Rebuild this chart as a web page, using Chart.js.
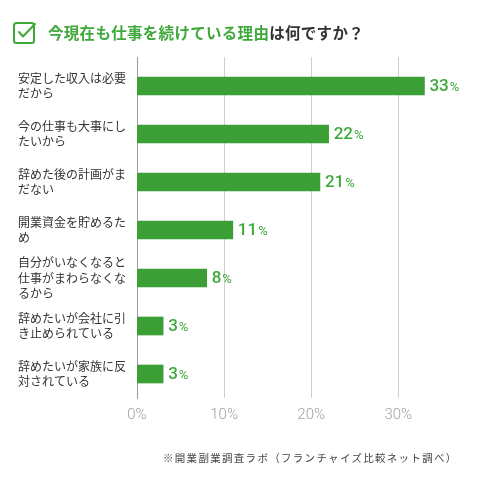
<!DOCTYPE html>
<html>
<head>
<meta charset="utf-8">
<script src="https://cdn.jsdelivr.net/npm/chart.js@4"></script>
<style>
  body { margin: 0; background: #fff; }
  #wrap { position: relative; width: 479px; height: 490px; }
  #grafico { position: absolute; left: 0; top: 0; }
  #titulo {
    position: absolute; left: 13px; top: 20px; height: 24px;
    display: flex; align-items: center;
    font-family: "Noto Sans CJK JP", sans-serif; font-weight: bold; font-size: 15.5px;
    color: #333; letter-spacing: 0.3px;
  }
  #titulo svg { margin-right: 11px; }
  #titulo .verde { color: #3ea83a; }
  #fonte {
    position: absolute; left: 163px; top: 450px;
    font-family: "Noto Sans CJK JP", sans-serif; font-size: 10.5px; color: #444;
    letter-spacing: 1.3px;
  }
</style>
</head>
<body>
<div id="wrap">
  <canvas id="grafico" width="479" height="490"></canvas>
  <div id="titulo">
    <svg width="24" height="24" viewBox="0 0 24 24">
      <rect x="1" y="3" width="20" height="20" rx="2.5" fill="none" stroke="#3ea83a" stroke-width="2"/>
      <polyline points="6,12 10,16.5 22,4" fill="none" stroke="#3ea83a" stroke-width="2" stroke-linecap="round" stroke-linejoin="round"/>
    </svg>
    <span><span class="verde">今現在も仕事を続けている理由</span>は何ですか？</span>
  </div>
  <div id="fonte">※開業副業調査ラボ（フランチャイズ比較ネット調べ）</div>
</div>
<script>
const categorias = [
  ["安定した収入は必要", "だから"],
  ["今の仕事も大事にし", "たいから"],
  ["辞めた後の計画がま", "だない"],
  ["開業資金を貯めるた", "め"],
  ["自分がいなくなると", "仕事がまわらなくな", "るから"],
  ["辞めたいが会社に引", "き止められている"],
  ["辞めたいが家族に反", "対されている"]
];
const valores = [33, 22, 21, 11, 8, 3, 3];
const ticksX = [0, 10, 20, 30];

const verde = "#3b9f35";

// rótulos de valor no fim das barras
const rotulos = {
  id: "rotulos",
  afterDatasetsDraw(chart) {
    const ctx = chart.ctx;
    const meta = chart.getDatasetMeta(0);
    ctx.save();
    ctx.fillStyle = "#3ea83a";
    ctx.textBaseline = "middle";
    meta.data.forEach((bar, i) => {
      const num = String(valores[i]);
      let x = bar.x + 5;
      ctx.font = "500 17px Roboto";
      ctx.fillText(num, x, bar.y + 1);
      x += ctx.measureText(num).width + 1;
      ctx.font = "400 13px Roboto";
      ctx.fillText("%", x, bar.y + 2);
    });
    ctx.restore();
  }
};

// grade um pouco acima da área
const gradeTopo = {
  id: "gradeTopo",
  beforeDatasetsDraw(chart) {
    const ctx = chart.ctx;
    const sx = chart.scales.x;
    const top = chart.chartArea.top;
    ctx.save();
    ctx.lineWidth = 1;
    sx.ticks.forEach(t => {
      const x = Math.round(sx.getPixelForValue(t.value)) + 0.5;
      ctx.strokeStyle = t.value === 0 ? "#999" : "#d0d0d0";
      ctx.beginPath();
      ctx.moveTo(x, top - 5);
      ctx.lineTo(x, top);
      ctx.stroke();
    });
    ctx.restore();
  }
};

const grafico = new Chart(document.getElementById("grafico"), {
  type: "bar",
  data: {
    labels: categorias,
    datasets: [{
      data: valores,
      backgroundColor: verde,
      barThickness: 18
    }]
  },
  options: {
    indexAxis: "y",
    responsive: false,
    animation: false,
    layout: { padding: { left: 18, right: 11, top: 62, bottom: 62 } },
    plugins: { legend: { display: false }, tooltip: { enabled: false } },
    scales: {
      x: {
        min: 0,
        max: 38,
        afterBuildTicks: s => { s.ticks = ticksX.map(v => ({ value: v })); },
        afterFit: s => { s.height = 30; },
        grid: { color: "#d0d0d0", drawTicks: false },
        border: { display: false },
        ticks: {
          padding: 8,
          color: "#a0a0a0",
          font: { family: "Roboto", size: 15, weight: 300 },
          callback: v => v + "%"
        }
      },
      y: {
        afterFit: s => { s.width = 119; },
        grid: { display: false },
        border: { display: true, color: "#999", width: 1 },
        ticks: {
          autoSkip: false,
          crossAlign: "far",
          color: "#333",
          font: { family: "Noto Sans CJK JP", size: 12, lineHeight: 1.3 }
        }
      }
    }
  },
  plugins: [gradeTopo, rotulos]
});
</script>
</body>
</html>
